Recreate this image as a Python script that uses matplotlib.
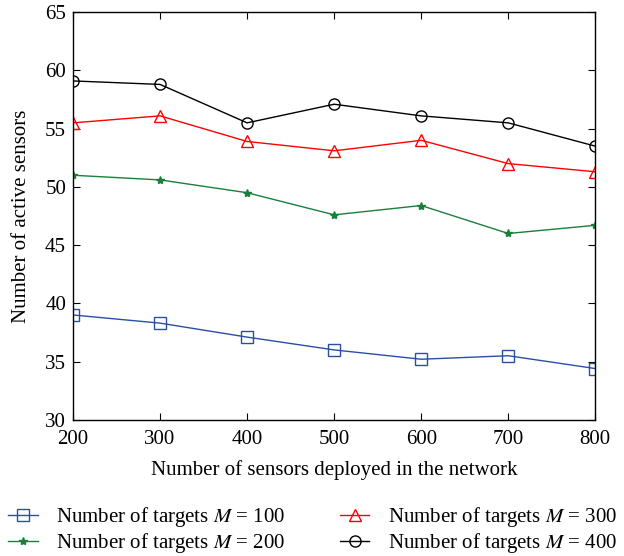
import matplotlib
matplotlib.use("Agg")
import matplotlib.pyplot as plt

plt.rcParams['font.family'] = ['Liberation Serif', 'DejaVu Serif']
plt.rcParams['mathtext.fontset'] = 'stix'

sensors = [200, 300, 400, 500, 600, 700, 800]
m100 = [39.0, 38.3, 37.1, 36.0, 35.2, 35.5, 34.4]
m200 = [51.0, 50.6, 49.5, 47.6, 48.4, 46.0, 46.7]
m300 = [55.5, 56.1, 53.9, 53.1, 54.0, 52.0, 51.3]
m400 = [59.1, 58.8, 55.5, 57.1, 56.1, 55.5, 53.5]

fig = plt.figure(figsize=(6.24, 5.56), dpi=100)
ax = fig.add_axes([0.117, 0.245, 0.837, 0.733])

l1, = ax.plot(sensors, m100, color='#2a4ea6', marker='s', markersize=8, markerfacecolor='none', lw=1.0, label='Number of targets $M$ = 100')
l2, = ax.plot(sensors, m200, color='#18803c', marker='*', markersize=6, lw=1.0, label='Number of targets $M$ = 200')
l3, = ax.plot(sensors, m300, color='red', marker='^', markersize=9, markerfacecolor='none', lw=1.0, label='Number of targets $M$ = 300')
l4, = ax.plot(sensors, m400, color='black', marker='o', markersize=8, markerfacecolor='none', lw=1.0, label='Number of targets $M$ = 400')

ax.set_xlim(200, 800)
ax.set_ylim(30, 65)
ax.set_xticks(sensors)
ax.set_yticks(range(30, 66, 5))
ax.tick_params(direction='in', top=True, right=True, labelsize=15, length=5)
ax.tick_params(axis='x', pad=7)
ax.tick_params(axis='y', pad=5)
for s in ax.spines.values():
    s.set_linewidth(1.0)
ax.set_xlabel('Number of sensors deployed in the network', fontsize=15, labelpad=8)
ax.set_ylabel('Number of active sensors', fontsize=15, labelpad=10)

common = dict(loc='lower left', frameon=False, fontsize=15, handlelength=1.4,
              labelspacing=0.08, handletextpad=0.9, borderaxespad=0)
fig.legend(handles=[l1, l2], bbox_to_anchor=(0.0, -0.013), **common)
fig.legend(handles=[l3, l4], bbox_to_anchor=(0.532, -0.013), **common)

fig.savefig('out.png', dpi=100)
